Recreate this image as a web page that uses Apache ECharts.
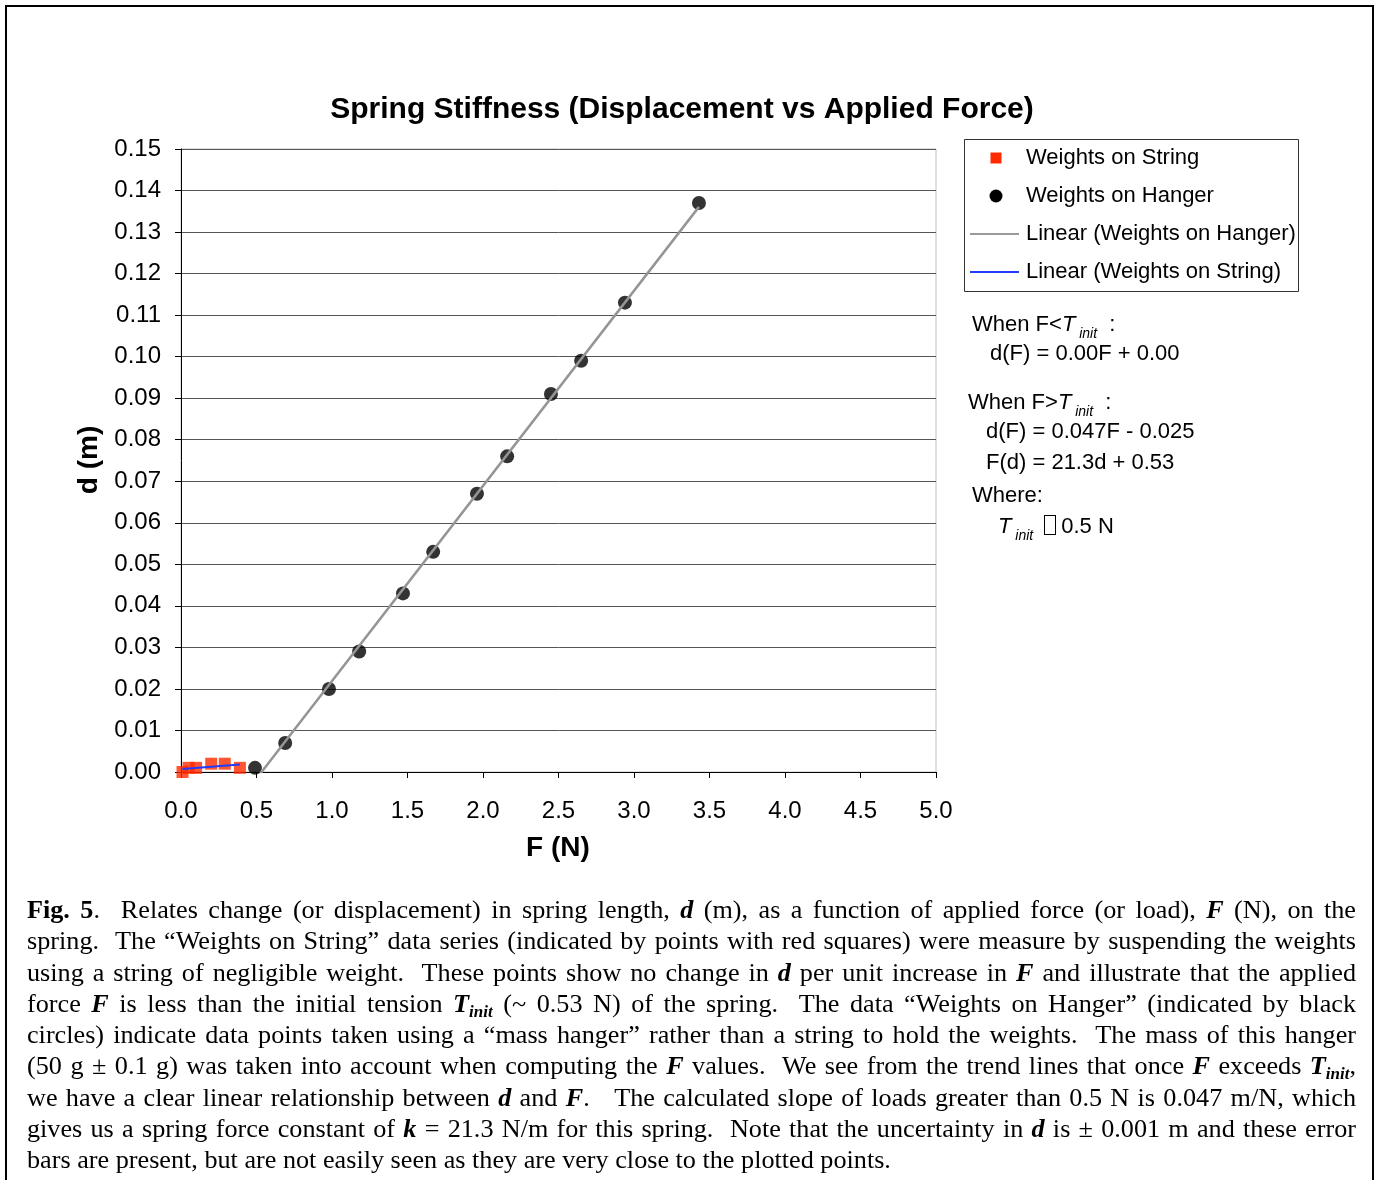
<!DOCTYPE html>
<html>
<head>
<meta charset="utf-8">
<script src="https://cdn.jsdelivr.net/npm/echarts/dist/echarts.min.js"></script>
<style>
  html, body { margin: 0; padding: 0; background: #fff; }
  #wrap { position: relative; width: 1376px; height: 1180px; overflow: hidden; }
  #chart { position: absolute; left: 0; top: 0; width: 1376px; height: 1180px; }
  .ann { position: absolute; font-family: 'Liberation Sans', Arial, sans-serif; font-size: 22px; line-height: 24px; white-space: pre; color: #000; }
  .ann .sub { font-style: italic; font-size: 14px; position: relative; top: 7px; }
  .box { display: inline-block; width: 10px; height: 18px; border: 1px solid #000; vertical-align: -2px; margin: 0 5px 0 11px; }
  #caption { position: absolute; left: 27px; top: 894px; width: 1329px; font-family: 'Liberation Serif', 'Times New Roman', serif; font-size: 26.2px; line-height: 31.3px; color: #000; }
  #caption .l { text-align: justify; text-align-last: justify; white-space: normal; }
  #caption .last { text-align: left; }
  #caption sub { font-size: 17px; vertical-align: -5px; line-height: 0; }
</style>
</head>
<body>
<div id="wrap">
  <div id="chart"></div>

  <div class="ann" style="left:972px;top:312px">When F&lt;<i>T</i><span class="sub"> init</span>  :</div>
  <div class="ann" style="left:990px;top:341px">d(F) = 0.00F + 0.00</div>
  <div class="ann" style="left:968px;top:390px">When F&gt;<i>T</i><span class="sub"> init</span>  :</div>
  <div class="ann" style="left:986px;top:419px">d(F) = 0.047F - 0.025</div>
  <div class="ann" style="left:986px;top:450px">F(d) = 21.3d + 0.53</div>
  <div class="ann" style="left:972px;top:483px">Where:</div>
  <div class="ann" style="left:998px;top:514px"><i>T</i><span class="sub"> init</span><span class="box"></span>0.5 N</div>

  <div id="caption">
    <div class="l"><b>Fig. 5</b>.&nbsp; Relates change (or displacement) in spring length, <b><i>d</i></b> (m), as a function of applied force (or load), <b><i>F</i></b> (N), on the</div>
    <div class="l">spring.&nbsp; The “Weights on String” data series (indicated by points with red squares) were measure by suspending the weights</div>
    <div class="l">using a string of negligible weight.&nbsp; These points show no change in <b><i>d</i></b> per unit increase in <b><i>F</i></b> and illustrate that the applied</div>
    <div class="l">force <b><i>F</i></b> is less than the initial tension <b><i>T<sub>init</sub></i></b> (~ 0.53 N) of the spring.&nbsp; The data “Weights on Hanger” (indicated by black</div>
    <div class="l">circles) indicate data points taken using a “mass hanger” rather than a string to hold the weights.&nbsp; The mass of this hanger</div>
    <div class="l">(50 g ± 0.1 g) was taken into account when computing the <b><i>F</i></b> values.&nbsp; We see from the trend lines that once <b><i>F</i></b> exceeds <b><i>T<sub>init</sub></i></b>,</div>
    <div class="l">we have a clear linear relationship between <b><i>d</i></b> and <b><i>F</i></b>.&nbsp;&nbsp; The calculated slope of loads greater than 0.5 N is 0.047 m/N, which</div>
    <div class="l">gives us a spring force constant of <b><i>k</i></b> = 21.3 N/m for this spring.&nbsp; Note that the uncertainty in <b><i>d</i></b> is ± 0.001 m and these error</div>
    <div class="last">bars are present, but are not easily seen as they are very close to the plotted points.</div>
  </div>
</div>
<script>
// ---- data ----
const stringForce = [0.01, 0.05, 0.10, 0.20, 0.29, 0.39];        // F (N), weights on string
const stringDisp  = [0.000, 0.001, 0.001, 0.002, 0.002, 0.001];  // d (m)
const hangerForce = [0.49, 0.69, 0.98, 1.18, 1.47, 1.67, 1.96, 2.16, 2.45, 2.65, 2.94, 3.43];
const hangerDisp  = [0.001, 0.007, 0.020, 0.029, 0.043, 0.053, 0.067, 0.076, 0.091, 0.099, 0.113, 0.137];
const xTicks = [0, 0.5, 1, 1.5, 2, 2.5, 3, 3.5, 4, 4.5, 5];
const yTicks = [0, 0.01, 0.02, 0.03, 0.04, 0.05, 0.06, 0.07, 0.08, 0.09, 0.10, 0.11, 0.12, 0.13, 0.14, 0.15];
const seriesNames = ['Weights on String', 'Weights on Hanger', 'Linear (Weights on Hanger)', 'Linear (Weights on String)'];
const titleText = 'Spring Stiffness (Displacement vs Applied Force)';

// least-squares trend line over the data's x-range (as a spreadsheet trendline does)
function trend(xs, ys) {
  const n = xs.length;
  const mx = xs.reduce((a, b) => a + b, 0) / n;
  const my = ys.reduce((a, b) => a + b, 0) / n;
  let sxy = 0, sxx = 0;
  for (let i = 0; i < n; i++) { sxy += (xs[i] - mx) * (ys[i] - my); sxx += (xs[i] - mx) ** 2; }
  const k = sxy / sxx, b = my - k * mx;
  const x0 = Math.min(...xs), x1 = Math.max(...xs);
  return [[x0, k * x0 + b], [x1, k * x1 + b]];
}

const FONT = "'Liberation Sans', Arial, sans-serif";
const chart = echarts.init(document.getElementById('chart'), null, { renderer: 'canvas' });

const legendY = [158, 196, 234, 272];

chart.setOption({
  animation: false,
  backgroundColor: '#ffffff',
  grid: {
    left: 181, top: 149, right: 1376 - 936, bottom: 1180 - 772,
    show: true, borderColor: '#c0c0c0', borderWidth: 1, backgroundColor: 'transparent'
  },
  xAxis: {
    type: 'value', min: xTicks[0], max: xTicks[xTicks.length - 1], interval: 0.5,
    axisLine: { show: true, onZero: false, lineStyle: { color: '#000', width: 1 } },
    axisTick: { show: true, inside: false, length: 6, lineStyle: { color: '#000' } },
    splitLine: { show: false },
    axisLabel: { color: '#000', fontFamily: FONT, fontSize: 24, margin: 27, formatter: v => v.toFixed(1) }
  },
  yAxis: {
    type: 'value', min: yTicks[0], max: yTicks[yTicks.length - 1], interval: 0.01,
    axisLine: { show: true, onZero: false, lineStyle: { color: '#000', width: 1 } },
    axisTick: { show: true, inside: false, length: 6, lineStyle: { color: '#000' } },
    splitLine: { show: true, lineStyle: { color: '#555', width: 1 } },
    axisLabel: { color: '#000', fontFamily: FONT, fontSize: 24, margin: 20, formatter: v => v.toFixed(2) }
  },
  series: [
    {
      name: seriesNames[0], type: 'scatter', symbol: 'rect', symbolSize: 12,
      itemStyle: { color: '#ff2a00' }, z: 3,
      data: stringForce.map((f, i) => [f, stringDisp[i]])
    },
    {
      name: seriesNames[1], type: 'scatter', symbol: 'circle', symbolSize: 14,
      itemStyle: { color: '#000000' }, z: 3,
      data: hangerForce.map((f, i) => [f, hangerDisp[i]])
    },
    {
      name: seriesNames[2], type: 'line', showSymbol: false, symbol: 'none', clip: true,
      lineStyle: { color: '#959595', width: 2.5 }, z: 4, silent: true,
      data: trend(hangerForce, hangerDisp)
    },
    {
      name: seriesNames[3], type: 'line', showSymbol: false, symbol: 'none', clip: true,
      lineStyle: { color: '#1f3cff', width: 2 }, z: 4, silent: true,
      data: trend(stringForce, stringDisp)
    }
  ],
  graphic: [
    // outer frame
    { type: 'rect', shape: { x: 6, y: 6, width: 1367, height: 1220 }, style: { fill: 'none', stroke: '#000', lineWidth: 2 }, silent: true },
    // title
    { type: 'text', x: 682, y: 110, style: { text: titleText, fontFamily: FONT, fontWeight: 'bold', fontSize: 30, fill: '#000', align: 'center', verticalAlign: 'middle' } },
    // axis titles
    { type: 'text', x: 558, y: 848, style: { text: 'F (N)', fontFamily: FONT, fontWeight: 'bold', fontSize: 28, fill: '#000', align: 'center', verticalAlign: 'middle' } },
    { type: 'text', x: 89, y: 460, rotation: Math.PI / 2, style: { text: 'd (m)', fontFamily: FONT, fontWeight: 'bold', fontSize: 28, fill: '#000', align: 'center', verticalAlign: 'middle' } },
    // legend box
    { type: 'rect', shape: { x: 964.5, y: 139.5, width: 334, height: 152 }, style: { fill: '#fff', stroke: '#333', lineWidth: 1 }, z: 10 },
    { type: 'rect', shape: { x: 990.5, y: legendY[0] - 5.5, width: 11, height: 11 }, style: { fill: '#ff2a00' }, z: 11 },
    { type: 'circle', shape: { cx: 996, cy: legendY[1], r: 6.5 }, style: { fill: '#000' }, z: 11 },
    { type: 'line', shape: { x1: 970, y1: legendY[2], x2: 1019, y2: legendY[2] }, style: { stroke: '#9a9a9a', lineWidth: 2 }, z: 11 },
    { type: 'line', shape: { x1: 970, y1: legendY[3], x2: 1019, y2: legendY[3] }, style: { stroke: '#1f3cff', lineWidth: 2 }, z: 11 },
    ...seriesNames.map((nm, i) => ({
      type: 'text', x: 1026, y: legendY[i], z: 11,
      style: { text: nm, fontFamily: FONT, fontSize: 22, fill: '#000', align: 'left', verticalAlign: 'middle' }
    }))
  ]
});
</script>
</body>
</html>
